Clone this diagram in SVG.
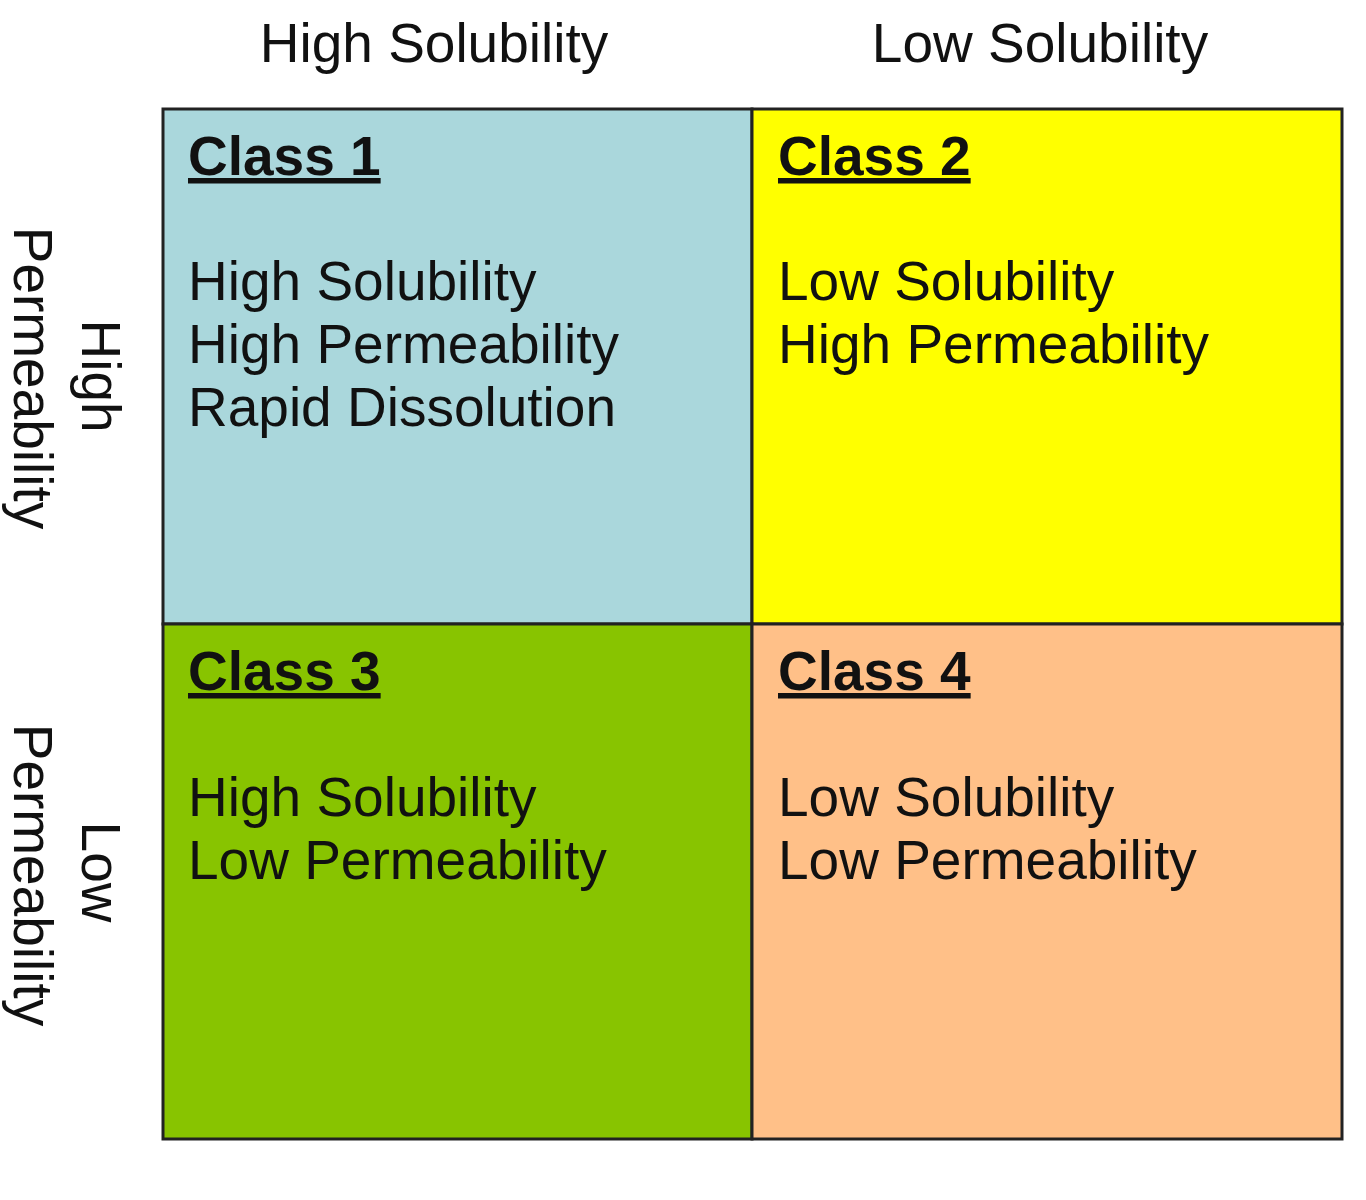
<svg xmlns="http://www.w3.org/2000/svg" width="1366" height="1200" viewBox="0 0 1366 1200">
<style>
text{font-family:"Liberation Sans",Arial,sans-serif;fill:#111;font-size:55px}
.h{font-weight:bold;text-decoration:underline}
.c{stroke:#222;stroke-width:3}
</style>
<rect width="1366" height="1200" fill="#fff"/>
<g id="headers">
<text x="434" y="62" text-anchor="middle">High Solubility</text>
<text x="1040" y="62" text-anchor="middle">Low Solubility</text>
<text transform="translate(82,376) rotate(90)" text-anchor="middle">High</text>
<text transform="translate(14,378) rotate(90)" text-anchor="middle">Permeability</text>
<text transform="translate(82,872) rotate(90)" text-anchor="middle">Low</text>
<text transform="translate(14,875) rotate(90)" text-anchor="middle">Permeability</text>
</g>
<g id="class1">
<rect class="c" x="163" y="109" width="589" height="515" fill="#AAD7DC"/>
<text class="h" x="188" y="175">Class 1</text>
<text x="188" y="300">High Solubility</text>
<text x="188" y="363">High Permeability</text>
<text x="188" y="426">Rapid Dissolution</text>
</g>
<g id="class2">
<rect class="c" x="752" y="109" width="590" height="515" fill="#FFFF00"/>
<text class="h" x="778" y="175">Class 2</text>
<text x="778" y="300">Low Solubility</text>
<text x="778" y="363">High Permeability</text>
</g>
<g id="class3">
<rect class="c" x="163" y="624" width="589" height="515" fill="#88C400"/>
<text class="h" x="188" y="690">Class 3</text>
<text x="188" y="816">High Solubility</text>
<text x="188" y="879">Low Permeability</text>
</g>
<g id="class4">
<rect class="c" x="752" y="624" width="590" height="515" fill="#FFC088"/>
<text class="h" x="778" y="690">Class 4</text>
<text x="778" y="816">Low Solubility</text>
<text x="778" y="879">Low Permeability</text>
</g>
<g id="connectors"></g>
</svg>
